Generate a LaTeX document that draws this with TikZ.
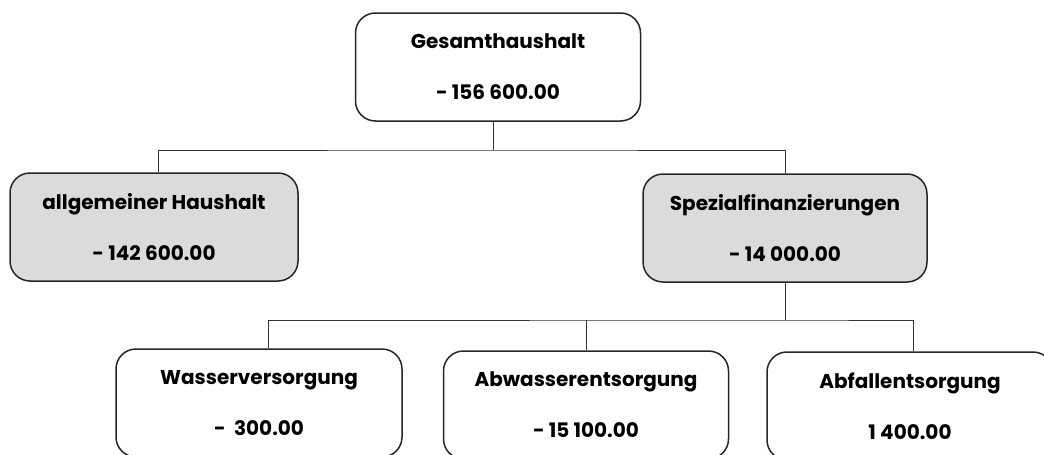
\documentclass[tikz,border=0pt]{standalone}
\usepackage{fontspec}
\setmainfont{Poppins}
\begin{document}
\begin{tikzpicture}[x=1pt,y=-1pt,
  box/.style={draw=black!85, line width=1.5pt, rounded corners=20pt, fill=white,
    minimum width=285pt, minimum height=108pt, inner sep=0pt,
    align=center, font=\fontsize{20}{24}\selectfont\bfseries},
  graybox/.style={box, fill=black!14},
  conn/.style={draw=black!80, line width=0.9pt}]
\useasboundingbox (0,0) rectangle (1044,455);
\node[box] (top) at (498,67) {Gesamthaushalt\\[27pt]- 156 600.00};
\node[graybox, minimum width=288pt] (ah) at (154,227) {allgemeiner Haushalt\\[27pt]- 142 600.00};
\node[graybox, minimum width=284pt] (sf) at (785,228) {Spezialfinanzierungen\\[27pt]- 14 000.00};
\node[box, minimum width=286pt] (wv) at (259,403) {Wasserversorgung\\[27pt]-\ \ 300.00};
\node[box] (aw) at (586,405) {Abwasserentsorgung\\[27pt]- 15 100.00};
\node[box, minimum width=286pt] (af) at (910,406) {Abfallentsorgung\\[27pt]1 400.00};
\coordinate (j1) at (493,150);
\coordinate (j2) at (785,320);
\draw[conn] ([xshift=-5pt]top.south) -- (j1);
\draw[conn] ([xshift=4pt]ah.north) |- (j1) -| (sf.north);
\draw[conn] (sf.south) -- (j2);
\draw[conn] ([xshift=9pt]wv.north) |- (j2) -| ([xshift=3pt]af.north);
\draw[conn] (aw.north) -- (aw.north |- j2);
\end{tikzpicture}
\end{document}
